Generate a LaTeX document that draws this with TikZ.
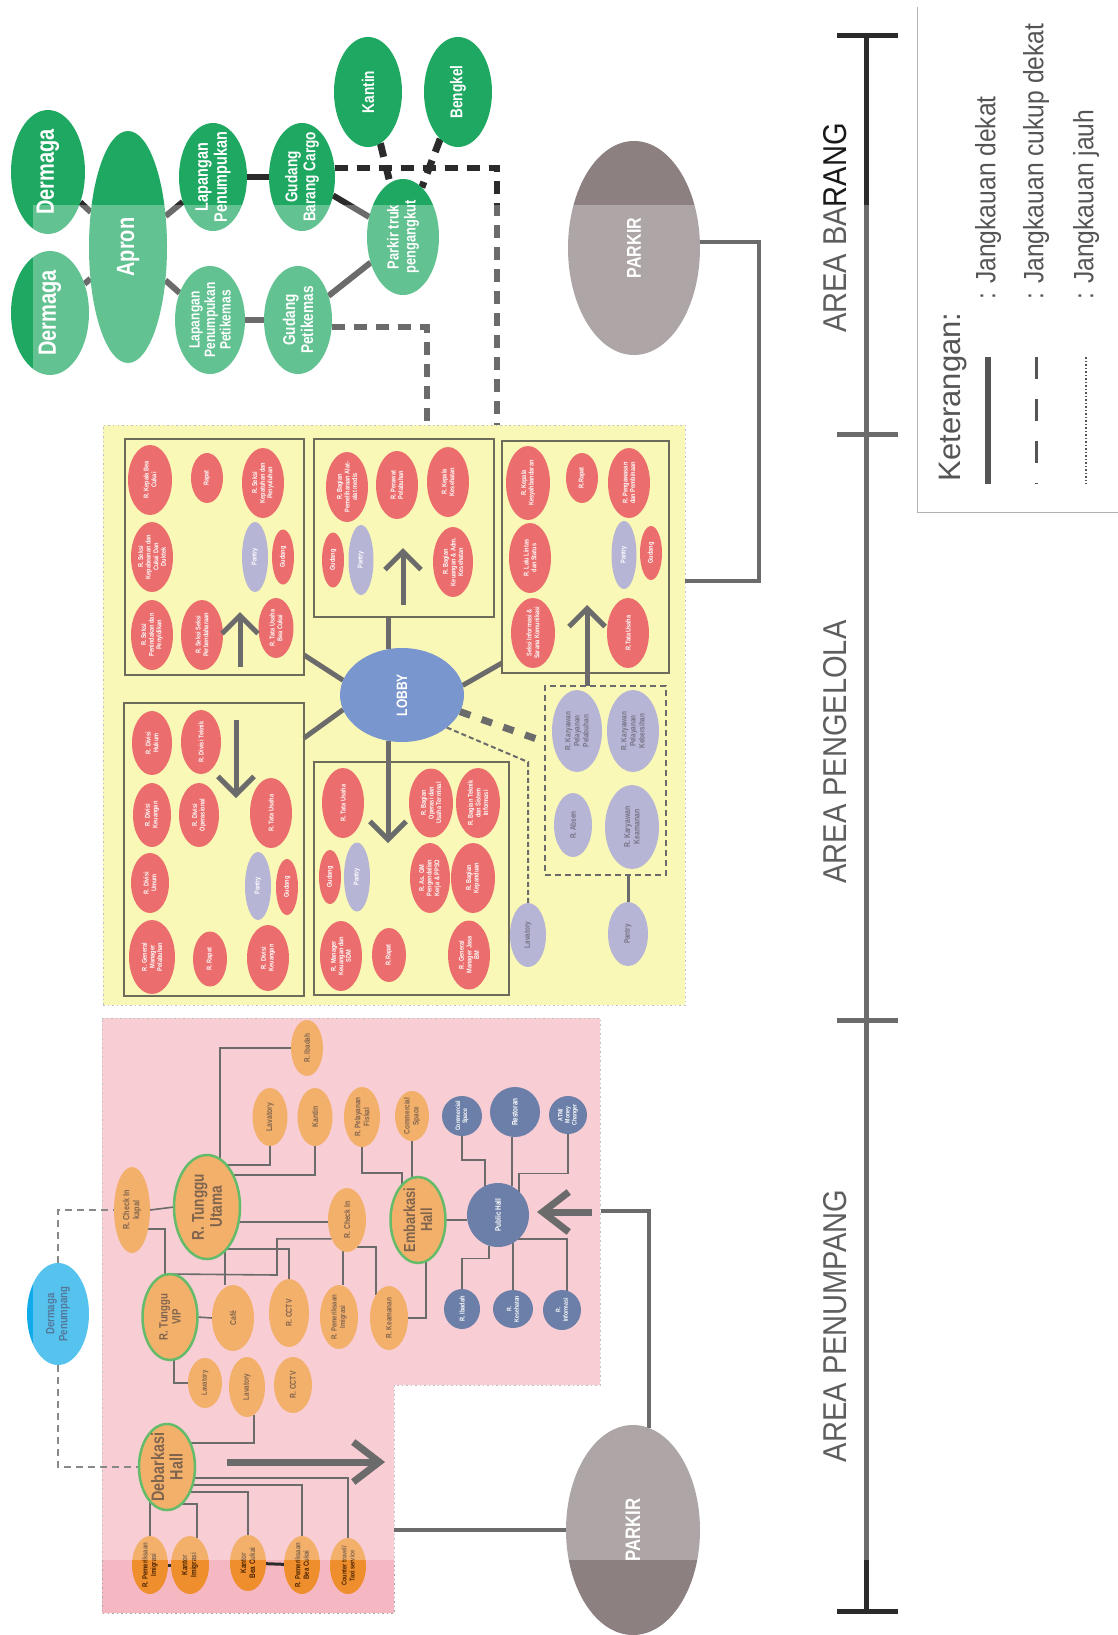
\documentclass[tikz,border=0pt]{standalone}
\usepackage{fontspec}
\setmainfont{Liberation Sans}
\newfontfamily\cn[FakeStretch=0.8]{Liberation Sans}
\newfontfamily\cnr[FakeStretch=0.88]{Liberation Sans}
\usetikzlibrary{shapes.geometric,arrows.meta,calc}
\pgfdeclarelayer{back}\pgfdeclarelayer{mid}\pgfdeclarelayer{top}
\pgfsetlayers{back,mid,main,top}
\definecolor{cgreen}{HTML}{1FA862}
\definecolor{cred}{HTML}{E42E2E}
\definecolor{clav}{HTML}{9895C4}
\definecolor{clob}{HTML}{4169B9}
\definecolor{corg}{HTML}{EE8E2C}
\definecolor{cslate}{HTML}{2C4883}
\definecolor{ccyan}{HTML}{0EAAE9}
\definecolor{cpark}{HTML}{8C8080}
\definecolor{cyel}{HTML}{F8F598}
\definecolor{cpink}{HTML}{F5B8C2}
\definecolor{cline}{HTML}{2B2B2B}
\definecolor{cbrown}{HTML}{4A2200}
\definecolor{chall}{HTML}{22A02A}
\definecolor{cbox}{HTML}{2F2C14}
\definecolor{clavt}{HTML}{3A3550}
\definecolor{cdpt}{HTML}{083F70}
\definecolor{clegend}{HTML}{555555}
\tikzset{
 base/.style={ellipse, inner sep=0pt, outer sep=0pt, draw=none},
 sz/.style 2 args={minimum width={2*#1pt}, minimum height={2*#2pt}},
 lb/.style={rotate=90, align=center, inner sep=0pt, font=\cn\bfseries\fontsize{7}{7.6}\selectfont},
 fs/.style 2 args={font=\cn\bfseries\fontsize{#1}{#2}\selectfont},
 gn/.style={fill=cgreen}, gn t/.style={text=white},
 rd/.style={fill=cred}, rd t/.style={text=white},
 lv/.style={fill=clav}, lv t/.style={text=white},
 lvd/.style={fill=clav}, lvd t/.style={text=clavt},
 lob/.style={fill=clob}, lob t/.style={text=white},
 og/.style={fill=corg}, og t/.style={text=cbrown},
 hl/.style={fill=corg, draw=chall, line width=2.5pt}, hl t/.style={text=cbrown},
 sl/.style={fill=cslate}, sl t/.style={text=white},
 cy/.style={fill=ccyan}, cy t/.style={text=cdpt},
 pk/.style={fill=cpark}, pk t/.style={text=white},
 bord/.style={draw=gray!70, line width=1pt, dash pattern=on 1.5pt off 3pt},
 bx/.style={draw=cbox, line width=1.5pt, inner sep=0pt, outer sep=0pt},
 bxd/.style={draw=cline, line width=2.5pt, dash pattern=on 6pt off 4pt, inner sep=0pt, outer sep=0pt},
 grl/.style={line width=6pt, draw=cline},
 grd/.style={line width=7pt, draw=cline, dash pattern=on 14pt off 9pt},
 thkd/.style={line width=6pt, draw=cline, dash pattern=on 13pt off 9pt},
 thk/.style={line width=5pt, draw=cline},
 thk2/.style={line width=4.5pt, draw=cline},
 thkarr/.style={line width=5pt, draw=cline, -{Straight Barb[length=18pt, width=36pt]}},
 bigarr/.style={line width=7pt, draw=cline, -{Straight Barb[length=26pt, width=40pt]}},
 lobd/.style={line width=7pt, draw=cline, dash pattern=on 11pt off 12pt},
 thnd/.style={line width=2pt, draw=cline, dash pattern=on 5pt off 3pt},
 thn/.style={line width=1.6pt, draw=cline},
 pdash/.style={line width=1.8pt, draw=cline!80, dash pattern=on 7pt off 5pt},
 mid/.style={line width=3pt, draw=cline},
 axis/.style={line width=5pt, draw=cline},
 area/.style={rotate=90, text=black!90, font=\cnr\fontsize{33}{33}\selectfont, inner sep=0pt},
 leg/.style={rotate=90, anchor=west, text=clegend, font=\cnr\fontsize{28}{28}\selectfont, inner sep=0pt},
}
\newcommand{\EL}[8]{\node[base,#6,sz={#4}{#5}] (#1) at (#2,#3) {};\node[lb,#6 t,#7] (#1-t) at (#1.center) {#8};}
\begin{document}
\begin{tikzpicture}[x=1pt,y=-1pt]
\useasboundingbox (0,0) rectangle (1118,1635);
\begin{pgfonlayer}{back}
\fill[white] (0,0) rectangle (1118,1635);
\fill[cpink] (102,1018) -- (600,1018) -- (600,1385) -- (394,1385) -- (394,1613) -- (102,1613) -- cycle;
\draw[bord] (102,1018) -- (600,1018) -- (600,1385) -- (394,1385) -- (394,1613) -- (102,1613) -- cycle;
\node[fill=cyel, bord, minimum width=582pt, minimum height=580pt, inner sep=0pt, outer sep=0pt] (yel) at (394,715) {};
\end{pgfonlayer}

% ---------- green area ----------
\EL{derm1}{48}{172}{37}{62}{gn}{fs={25}{26}}{Dermaga}
\EL{derm2}{50}{313}{39}{62}{gn}{fs={25}{26}}{Dermaga}
\EL{apron}{128}{247}{39}{116}{gn}{fs={25}{26}}{Apron}
\EL{lpen}{213}{177}{34}{54}{gn}{fs={18}{19}}{Lapangan\\Penumpukan}
\EL{gcargo}{302}{177}{33}{54}{gn}{fs={17}{18}}{Gudang\\Barang Cargo}
\EL{lpet}{210}{320}{35}{54}{gn}{fs={15}{15.5}}{Lapangan\\Penumpukan\\Petikemas}
\EL{gpet}{298}{320}{34}{54}{gn}{fs={17}{18}}{Gudang\\Petikemas}
\EL{ptruk}{403}{237}{36}{58}{gn}{fs={16}{17}}{Parkir truk\\pengangkut}
\EL{kantin}{368}{92}{34}{55}{gn}{fs={17}{18}}{Kantin}
\EL{bengkel}{458}{92}{34}{55}{gn}{fs={17}{18}}{Bengkel}
\begin{pgfonlayer}{mid}
\draw[grl] (derm1) -- (apron);
\draw[grl] (derm2) -- (apron);
\draw[grl] (apron) -- (lpen);
\draw[grl] (lpen) -- (gcargo);
\draw[grl] (apron) -- (lpet);
\draw[grl] (lpet) -- (gpet);
\draw[grl] (gcargo) -- (ptruk);
\draw[grl] (gpet) -- (ptruk);
\draw[grd] (kantin) -- (ptruk);
\draw[grd] (bengkel) -- (ptruk);
\coordinate (yt1) at (497,425);
\coordinate (yt2) at (427,425);
\draw[thkd] (gcargo.16) -| (yt1);
\draw[thkd] (gpet.-12) -| (yt2);
\end{pgfonlayer}

% ---------- PARKIR ----------
\EL{parkB}{634}{248}{66}{107}{pk}{fs={20}{20}}{PARKIR}
\EL{parkP}{633}{1530}{67}{105}{pk}{fs={21}{21}}{PARKIR}

% ---------- yellow area ----------
\node[bx, minimum width=179pt, minimum height=236pt] (bA) at (214.5,557) {};
\node[bx, minimum width=180pt, minimum height=178pt] (bB) at (404,528) {};
\node[bx, minimum width=167pt, minimum height=232pt] (bC) at (585.5,557) {};
\node[bx, minimum width=180pt, minimum height=293pt] (bD) at (214,849.5) {};
\node[bx, minimum width=195pt, minimum height=233pt] (bE) at (411.5,878.5) {};
\node[bxd, minimum width=121pt, minimum height=189pt] (bF) at (605.5,780.5) {};

\EL{lobby}{402}{695}{62}{47}{lob}{fs={15}{16}}{LOBBY}

\EL{a1}{150}{480}{22}{35}{rd}{}{R. Kepala Bea\\Cukai}
\EL{a2}{207}{478}{16}{25}{rd}{}{Rapat}
\EL{a3}{263}{483}{21}{35}{rd}{}{R. Seksi\\Kepatuhan dan\\Penyuluhan}
\EL{a4}{152}{557}{21}{35}{rd}{}{R. Seksi\\Kepabeanan dan\\Cukai Dan\\Duktek}
\EL{a5}{152}{635}{21}{35}{rd}{}{R. Seksi\\Penindakan dan\\Penyidikan}
\EL{a6}{202}{635}{21}{35}{rd}{}{R. Seksi Seksi\\Perbendaharaan}
\EL{a7}{276}{628}{17.5}{30}{rd}{}{R. Tata Usaha\\Bea Cukai}
\EL{a8}{255}{557}{13}{35}{lv}{}{Pantry}
\EL{a9}{283}{557}{11}{27.5}{rd}{}{Gudang}

\EL{b1}{347}{487}{21}{35}{rd}{}{R. Bagian\\Pemeliharaan Alat-\\alat medis}
\EL{b2}{397}{485}{21}{34}{rd}{}{R. Perawat\\Pelabuhan}
\EL{b3}{448}{482}{21}{35}{rd}{}{R. Kepala\\Kesehatan}
\EL{b4}{333}{560}{11}{27.5}{rd}{}{Gudang}
\EL{b5}{361}{560}{12.5}{35}{lv}{}{Pantry}
\EL{b6}{453}{562}{20}{35}{rd}{}{R. Bagian\\Keuangan \& Adm.\\Kesehatan}

\EL{c1}{528}{483}{22}{37}{rd}{}{R. Kepala\\Kesyahbandaran}
\EL{c2}{582}{478}{16}{25}{rd}{}{R.Rapat}
\EL{c3}{629}{483}{21}{35}{rd}{}{R. Pengawasan\\dan Pembinaan}
\EL{c4}{530}{558}{21}{35}{rd}{}{R. Lalu Lintas\\dan Status}
\EL{c5}{624}{555}{12.5}{34}{lv}{}{Pantry}
\EL{c6}{651}{553}{11}{27}{rd}{}{Gudang}
\EL{c7}{533}{633}{22}{35}{rd}{}{Seksi Informasi \&\\Sarana Komunikasi}
\EL{c8}{628}{633}{21}{35}{rd}{}{R.Tata Usaha}

\EL{d1}{152}{743}{20}{32}{rd}{}{R. Divisi\\Hukum}
\EL{d2}{201}{742}{20}{32}{rd}{}{R. Divisi Teknik}
\EL{d3}{152}{815}{19}{32}{rd}{}{R. Divisi\\Keuangan}
\EL{d4}{199}{815}{20}{32}{rd}{}{R. Divisi\\Operasional}
\EL{d5}{271}{813}{21}{35}{rd}{}{R. Tata Usaha}
\EL{d6}{150}{883}{19}{30}{rd}{}{R. Divisi\\Umum}
\EL{d7}{258}{886}{13}{34}{lv}{}{Pantry}
\EL{d8}{287}{887}{11}{28}{rd}{}{Gudang}
\EL{d9}{152}{957}{23}{37}{rd}{}{R. General\\Manager\\Pelabuhan}
\EL{d10}{210}{959}{17}{27.5}{rd}{}{R. Rapat}
\EL{d11}{268}{958}{21}{33}{rd}{}{R. Divisi\\Keuangan}

\EL{e1}{343}{803}{21}{35}{rd}{}{R. Tata Usaha}
\EL{e2}{330}{877}{11}{27}{rd}{}{Gudang}
\EL{e3}{357}{877}{13}{34.5}{lv}{}{Pantry}
\EL{e4}{341}{956}{21}{35}{rd}{}{R. Manager\\Keuangan dan\\SDM}
\EL{e5}{389}{955}{17}{27}{rd}{}{R.Rapat}
\EL{e6}{431}{803}{22}{34.5}{rd}{}{R. Bagian\\Operasi dan\\Usaha Terminal}
\EL{e7}{478}{803}{22}{35}{rd}{}{R. Bagian Teknik\\dan Sistem\\Informasi}
\EL{e8}{430}{878}{20}{35}{rd}{}{R. As. GM\\Pengendalian\\Kerja \& PPSO}
\EL{e9}{473}{878}{22}{35}{rd}{}{R. Bagian\\Kepanduan}
\EL{e10}{469}{955}{21}{34.5}{rd}{}{R. General\\Manager Jasa\\BM}

\EL{f1}{577}{731}{25}{41}{lvd}{fs={8}{9}}{R. Karyawan\\Pelayanan\\Pelabuhan}
\EL{f2}{633}{731}{26}{41}{lvd}{fs={8}{9}}{R. Karyawan\\Pelayanan\\Kebersihan}
\EL{f3}{573}{825}{19}{32}{lvd}{fs={8}{9}}{R. Absen}
\EL{f4}{632}{827}{27}{42}{lvd}{fs={8.5}{9.5}}{R. Karyawan\\Keamanan}
\EL{f5}{528}{935}{18}{32}{lvd}{fs={8}{9}}{Lavatory}
\EL{f6}{628}{934}{20}{32}{lvd}{fs={8}{9}}{Pantry}

\coordinate (pA) at (304,655);
\coordinate (pD) at (304,738);
\coordinate (pC) at (502,663);
\coordinate (pF) at (545,742);
\coordinate (pLv) at (528,762);
\coordinate (tipE) at (389,843);
\coordinate (tipC) at (587,605);
\begin{pgfonlayer}{mid}
\draw[thk] (lobby.166) -- (pA);
\draw[thk] (lobby.194) -- (pD);
\draw[thk] (lobby.9) -- (pC);
\draw[thk] (lobby.107) -- (lobby.107 |- bB.south);
\draw[lobd] (lobby.-16) -- (pF);
\draw[thnd] (lobby.-36) -- (pLv) -- (f5.north);
\draw[mid] (bF.south -| f6) -- (f6.north);
\end{pgfonlayer}
\draw[thkarr] (lobby.-107) -- (lobby.-107 |- tipE);
\draw[thkarr] (bF.north -| tipC) -- (tipC);
\draw[thkarr] (240,667) -- (240,612);
\draw[thkarr] (403,605) -- (403,548);
\draw[thkarr] (236,720) -- (236,798);

% ---------- pink area ----------
\EL{ibadahO}{307}{1048}{16}{28}{og}{fs={8}{9}}{R. Ibadah}
\EL{lavO1}{270}{1117}{17.5}{29}{og}{fs={8.5}{9}}{Lavatory}
\EL{kantinO}{315}{1117}{17.5}{29}{og}{fs={8.5}{9}}{Kantin}
\EL{fiskal}{362}{1117}{18}{30}{og}{fs={8}{9}}{R. Pelayanan\\Fiskal}
\EL{comO}{412}{1116}{17}{25}{og}{fs={8}{9}}{Commercial\\Space}
\EL{comB}{462}{1116}{20}{20}{sl}{fs={6.5}{7}}{Commercial\\Space}
\EL{resto}{515}{1112}{25}{25}{sl}{fs={8}{9}}{Restoran}
\EL{atm}{568}{1115}{19}{19}{sl}{fs={6.5}{7}}{ATM/\\Money\\Changer}
\EL{chkK}{132}{1210}{18}{43}{og}{fs={9}{10}}{R. Check In\\kapal}
\EL{tUtama}{207}{1207}{33}{52}{hl}{fs={17}{18}}{R. Tunggu\\Utama}
\EL{chk}{347}{1220}{19}{32}{og}{fs={8.5}{9}}{R. Check In}
\EL{emb}{418}{1220}{27.5}{43}{hl}{fs={16}{17}}{Embarkasi\\Hall}
\EL{pub}{498}{1215}{31}{32}{sl}{fs={8}{9}}{Public Hall}
\EL{vip}{170}{1317}{27.5}{43}{hl}{fs={12}{13}}{R. Tunggu\\VIP}
\EL{cafe}{233}{1318}{21}{33}{og}{fs={8.5}{9}}{Café}
\EL{cctv1}{289}{1313}{20}{34}{og}{fs={8.5}{9}}{R. CCTV}
\EL{pImig}{339}{1317}{19}{32}{og}{fs={7.5}{8.5}}{R. Pemeriksaan\\Imigrasi}
\EL{keam}{389}{1318}{19}{32}{og}{fs={8}{9}}{R. Keamanan}
\EL{ibadahB}{462}{1309}{18}{20}{sl}{fs={7}{8}}{R. Ibadah}
\EL{kesB}{513}{1309}{20}{19}{sl}{fs={6.5}{7.5}}{R.\\Kesehatan}
\EL{infoB}{562}{1310}{19}{20}{sl}{fs={6.5}{7.5}}{R.\\Informasi}
\EL{lavV}{205}{1383}{17}{25}{og}{fs={7.5}{8}}{Lavatory}
\EL{lav2}{247}{1387}{18}{30}{og}{fs={8}{9}}{Lavatory}
\EL{cctv2}{293}{1385}{19}{28}{og}{fs={8.5}{9}}{R. CCTV}
\EL{deb}{167}{1467}{28}{43}{hl}{fs={18}{18.5}}{Debarkasi\\Hall}
\EL{pImig2}{150}{1565}{18}{29}{og}{fs={7.5}{8.5}}{R. Pemeriksaan\\Imigrasi}
\EL{kImig}{190}{1565}{19}{29}{og}{fs={8}{9}}{Kantor\\Imigrasi}
\EL{kBea}{248}{1563}{18}{28}{og}{fs={8}{9}}{Kantor\\Bea Cukai}
\EL{pBea}{302}{1565}{18}{29}{og}{fs={7.5}{8.5}}{R. Pemeriksaan\\Bea Cukai}
\EL{counter}{348}{1566}{18}{28}{og}{fs={7}{8}}{Counter travel/\\Taxi service}
\EL{dPen}{58}{1314}{31}{51}{cy}{fs={12}{13}}{Dermaga\\Penumpang}

\begin{pgfonlayer}{mid}
\draw[thn] (tUtama.75) |- (ibadahO.west);
\draw[thn] (tUtama.65) -| (lavO1.south);
\draw[thn] (tUtama.51) -| (kantinO.south);
\draw[thn] (tUtama.-25) -- (tUtama.-25 -| chk.west);
\draw[thn] (chkK.east) -- (tUtama.west);
\draw[thn] (chkK.-50) -| (vip.97);
\draw[thn] (tUtama.-68) -- (tUtama.-68 |- cafe.north);
\draw[thn] (tUtama.-65) -| (cctv1.north);
\draw[thn] (chk.231) -| (277,1275) -- (vip.north);
\draw[thn] (chk.-97) -- (chk.-97 |- pImig.north);
\draw[thn] (chk.-69) -| (keam.120);
\draw[thn] (fiskal.south) -- ++(0,26) -| (emb.115);
\draw[thn] (comO.south) -- (comO.south |- emb.north);
\draw[thn] (emb.east) -- (emb.east -| pub.west);
\draw[thn] (emb.-79) |- (keam.east);
\draw[thn] (pub.114) -- ++(0,-26) -| (comB.south);
\draw[thn] (pub.64) -- (pub.64 |- resto.south);
\draw[thn] (pub.48) -- ++(0,-18) -| (atm.south);
\draw[thn] (pub.-106) -- ++(0,13) -| (ibadahB.north);
\draw[thn] (pub.-62) -- (pub.-62 |- kesB.north);
\draw[thn] (pub.-50) -| (infoB.75);
\draw[thn] (vip.east) -- (cafe.west);
\draw[thn] (vip.-85) |- (lavV.west);
\draw[thn] (deb.46) -| (lav2.-76);
\draw[thn] (deb.-117) -- (deb.-117 |- pImig2.north);
\draw[thn] (deb.-69) -| (kImig.75);
\draw[thn] (deb.-48) -| (kBea.north);
\draw[thn] (deb.-35) -| (pBea.north);
\draw[thn] (deb.-22) -| (counter.north);
\draw[mid] (pImig2) -- (kImig);
\draw[mid] (kBea) -- (pBea);
\draw[pdash] (dPen.north) |- (chkK.west);
\draw[pdash] (dPen.south) |- (deb.west);
\coordinate (kB) at (759,581);
\draw[thk2] (parkB.5) -| (kB) -- (kB -| yel.east);
\coordinate (kP) at (601,1211);
\coordinate (kP2) at (394,1530);
\draw[thk2] (parkP.81) |- (kP);
\draw[thk2] (parkP.west) -- (kP2);
\end{pgfonlayer}
\draw[bigarr] (227,1462) -- (385,1462);
\draw[bigarr] (592,1212) -- (537,1212);

% ---------- area axis ----------
\draw[axis] (866,36) -- (866,1611);
\foreach \yy in {36,434,1020,1611} \draw[axis] (837,\yy) -- (898,\yy);
\node[area] (aB) at (835,228) {AREA BARANG};
\node[area] (aP) at (835,752) {AREA PENGELOLA};
\node[area] (aU) at (835,1326) {AREA PENUMPANG};

% ---------- legend ----------
\draw[draw=gray!60, line width=1pt] (917,7) -- (917,512) -- (1118,512);
\node[rotate=90, text=clegend, font=\fontsize{31}{31}\selectfont, inner sep=0pt] (ket) at (953,397) {Keterangan:};
\draw[line width=6pt, draw=clegend] (988,357) -- (988,484);
\draw[line width=3pt, draw=clegend, dash pattern=on 22pt off 20pt] (1036,357) -- (1036,484);
\draw[line width=1.5pt, draw=clegend, dash pattern=on 1.5pt off 2pt] (1086,357) -- (1086,484);
\node[leg] (l1) at (988,300) {: Jangkauan dekat};
\node[leg] (l2) at (1036,300) {: Jangkauan cukup dekat};
\node[leg] (l3) at (1086,300) {: Jangkauan jauh};

\begin{pgfonlayer}{top}
\fill[white, opacity=0.3] (33,205) rectangle (905,1560);
\end{pgfonlayer}
\end{tikzpicture}
\end{document}
